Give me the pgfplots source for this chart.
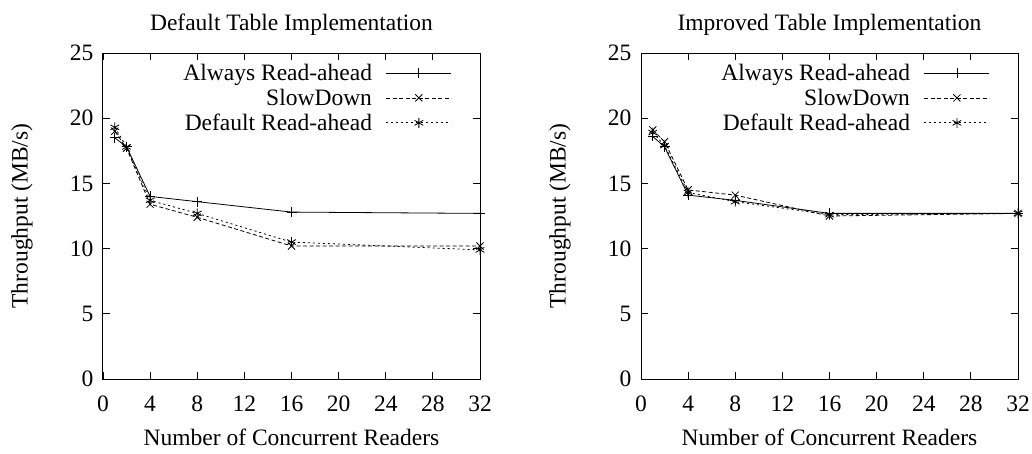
\documentclass[border=0pt]{standalone}
\usepackage{fontspec}
\setmainfont{Liberation Serif}
\usepackage{pgfplots}
\pgfplotsset{compat=1.18}
\pgfplotstableread{
x always slow def
1 18.5 19.0 19.3
2 17.8 17.7 17.8
4 14.0 13.4 13.7
8 13.6 12.4 12.7
16 12.8 10.2 10.5
32 12.7 10.2 9.9
}\left
\pgfplotstableread{
x always slow def
1 18.6 19.1 18.9
2 17.8 18.2 17.9
4 14.1 14.5 14.3
8 13.7 14.1 13.6
16 12.7 12.5 12.6
32 12.7 12.7 12.7
}\right
\begin{document}
\begin{tikzpicture}
\pgfplotsset{
  myaxis/.style={
    scale only axis, width=377pt, height=326pt,
    xmin=0, xmax=32, ymin=0, ymax=25,
    xtick={0,4,...,32}, ytick={0,5,...,25},
    tick align=inside, major tick length=7pt,
    tick style={black, line width=0.8pt},
    axis line style={line width=1pt},
    /pgf/number format/assume math mode=true,
    tick label style={font=\fontsize{23.5}{28}\selectfont},
    xticklabel style={yshift=-13pt},
    yticklabel style={xshift=-6pt},
    label style={font=\fontsize{23.5}{28}\selectfont},
    xlabel style={at={(axis description cs:0.5,-0.178)}, anchor=center},
    ylabel style={at={(axis description cs:-0.215,0.5)}, anchor=center},
    title style={font=\fontsize{23.5}{28}\selectfont, at={(axis description cs:0.5,1.067)}, anchor=center},
    xlabel={Number of Concurrent Readers},
    ylabel={Throughput (MB/s)},
    legend plot pos=right,
    legend cell align=right,
    legend style={draw=none, fill=none, font=\fontsize{23.5}{28}\selectfont,
      at={(1,1)}, anchor=north east, xshift=-28pt, yshift=-11pt,
      row sep=7pt, column sep=14pt, inner sep=0pt,
      nodes={inner sep=0pt}},
    legend image code/.code={\draw[mark repeat=2,mark phase=2] plot coordinates {(0pt,0pt)(32.5pt,0pt)(65pt,0pt)};},
    every axis plot/.append style={black, line width=0.8pt, mark size=5pt, mark options={solid, line width=0.8pt}},
  }
}
\path[use as bounding box] (-103pt,-74pt) rectangle (929pt,379pt);
\begin{axis}[myaxis, at={(0pt,0pt)}, anchor=south west, title={Default Table Implementation}]
\addplot[mark=+] table[x=x,y=always]{\left};
\addlegendentry{Always Read-ahead}
\addplot[mark=x, dash pattern=on 4pt off 2.5pt] table[x=x,y=slow]{\left};
\addlegendentry{SlowDown}
\addplot[mark=asterisk, dash pattern=on 2pt off 3pt] table[x=x,y=def]{\left};
\addlegendentry{Default Read-ahead}
\end{axis}
\begin{axis}[myaxis, at={(538pt,0pt)}, anchor=south west, title={Improved Table Implementation}]
\addplot[mark=+] table[x=x,y=always]{\right};
\addlegendentry{Always Read-ahead}
\addplot[mark=x, dash pattern=on 4pt off 2.5pt] table[x=x,y=slow]{\right};
\addlegendentry{SlowDown}
\addplot[mark=asterisk, dash pattern=on 2pt off 3pt] table[x=x,y=def]{\right};
\addlegendentry{Default Read-ahead}
\end{axis}
\end{tikzpicture}
\end{document}
